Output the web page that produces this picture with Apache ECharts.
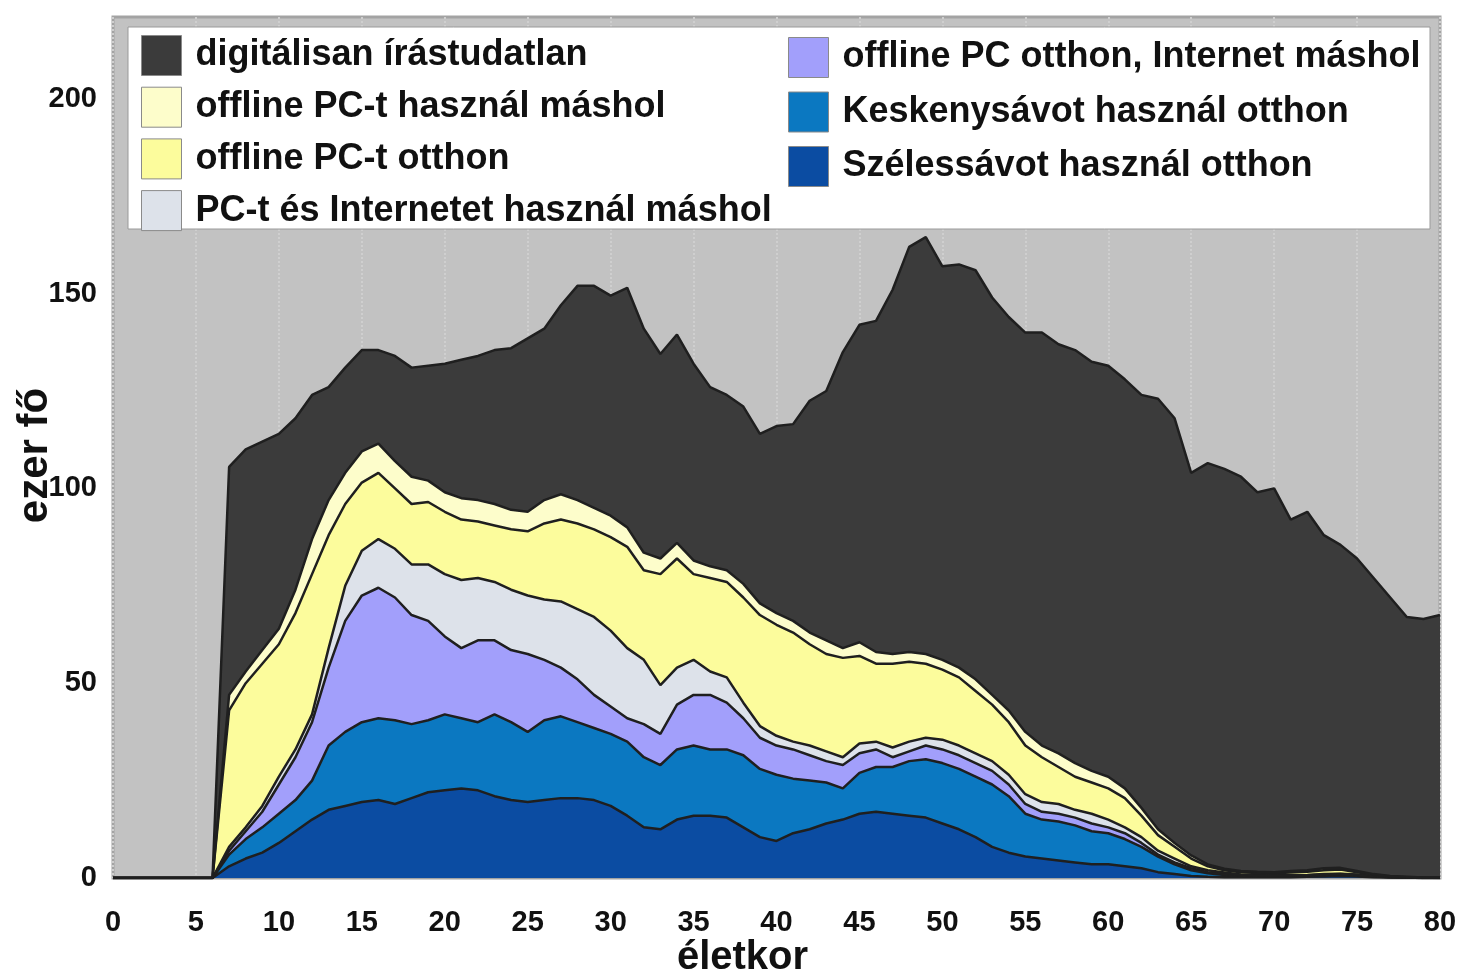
<!DOCTYPE html>
<html>
<head>
<meta charset="utf-8">
<script src="https://cdn.jsdelivr.net/npm/echarts@6/dist/echarts.min.js"></script>
<style>
  html, body { margin: 0; padding: 0; background: #fff; }
  #chart { width: 1462px; height: 971px; }
</style>
</head>
<body>
<div id="chart"></div>
<script>
  // életkor 0..80
  const ages = Array.from({ length: 81 }, (_, i) => String(i))

  // ezer fő, rétegenként (alulról felfelé), 0..80 éves korig
  const szelessav = [0, 0, 0, 0, 0, 0, 0,
    3, 5, 6.5, 9, 12, 15, 17.5, 18.5, 19.5, 20, 19, 20.5, 22, 22.5, 23, 22.5, 21, 20, 19.5, 20, 20.5, 20.5, 20, 18.5,
    16, 13, 12.5, 15, 16, 16, 15.5, 13, 10.5, 9.5, 11.5, 12.5, 14, 15, 16.5, 17, 16.5, 16, 15.5, 14,
    12.5, 10.5, 8, 6.5, 5.5, 5, 4.5, 4, 3.5, 3.5, 3, 2.5, 1.5, 1, 0.5, 0.3, 0.2, 0.2, 0.2, 0.2,
    0.2, 0.3, 0.4, 0.5, 0.4, 0.2, 0.1, 0.1, 0, 0]
  const keskenysav = [0, 0, 0, 0, 0, 0, 0,
    3, 5, 6.5, 7.5, 8, 10, 16.5, 19, 20.5, 21, 21.5, 19, 18.5, 19.5, 18, 17.5, 21, 20, 18, 20.5, 21, 19.5, 18.5, 18.5,
    19, 18, 16.5, 18, 18, 17, 17.5, 18.5, 17.5, 17, 14, 12.5, 10.5, 8, 10.5, 11.5, 12, 14, 15, 15.5,
    15.5, 15.5, 16, 14.5, 11, 10, 10, 9.5, 8.5, 8, 7, 5.5, 4, 2.5, 1.5, 0.9, 0.6, 0.4, 0.3, 0.3,
    0.3, 0.3, 0.4, 0.4, 0.3, 0.2, 0.1, 0, 0, 0]
  const offlineOtthonNetMashol = [0, 0, 0, 0, 0, 0, 0,
    1, 2, 4, 7.5, 11, 15, 20, 28.5, 32.5, 33.5, 31.5, 28, 25.5, 20, 18, 21, 19, 18.5, 20, 15.5, 12.5, 11, 8.5, 7,
    6, 8.5, 8, 11.5, 13, 14, 12, 9.5, 8, 7.5, 7.5, 6.5, 5.5, 6, 5, 4.5, 2.5, 2.5, 3.5, 3.5,
    3.5, 3.5, 3.5, 3, 2.5, 2, 2, 2, 2, 1.5, 1.5, 1, 0.5, 0.5, 0.5, 0.3, 0.2, 0.1, 0.1, 0.1,
    0.1, 0.1, 0.1, 0.1, 0.1, 0.1, 0, 0, 0, 0]
  const pcNetMashol = [0, 0, 0, 0, 0, 0, 0,
    1, 1, 1.5, 2, 2, 2, 5, 9, 11.5, 12.5, 12.5, 13, 14.5, 16, 17.5, 16, 15, 15.5, 15, 15.5, 17, 18, 20, 19.5,
    18, 16.5, 12.5, 9.5, 9, 6, 6.5, 4, 3, 2.5, 2, 2.5, 2.5, 2, 2.5, 2, 2.5, 2.5, 2, 2.5,
    2.5, 2.5, 2.5, 2.5, 2.5, 2.5, 2.5, 2, 2.5, 2, 1.5, 1.5, 1, 1, 0.5, 0.5, 0.4, 0.2, 0.2, 0.1,
    0.1, 0.1, 0.1, 0.1, 0.1, 0, 0.1, 0, 0, 0]
  const offlineOtthon = [0, 0, 0, 0, 0, 0, 0,
    35, 37, 36.5, 34, 35, 36, 29, 21, 17.5, 17, 15.5, 15.5, 16, 16, 15.5, 14.5, 14.5, 15.5, 16.5, 19.5, 21, 22, 22.5, 24,
    26, 23, 28.5, 28, 22, 24, 24.5, 27, 28.5, 28.5, 28, 26, 25, 25.5, 22.5, 20, 21.5, 20.5, 19, 18,
    17.5, 16, 14.5, 13.5, 12.5, 11.5, 9.5, 8.5, 8, 8, 7.5, 5.5, 4, 3, 2, 1, 0.6, 0.6, 0.5, 0.5,
    0.7, 0.8, 1, 1.1, 0.6, 0.3, 0.1, 0.1, 0.1, 0]
  const offlineMashol = [0, 0, 0, 0, 0, 0, 0,
    4, 3, 3.5, 4, 6, 9, 9, 8, 8, 7.5, 7, 7, 5.5, 5, 5.5, 5.5, 5.5, 5, 5, 6, 6.5, 6, 5.5, 5.5,
    5, 4.5, 4, 4, 3.5, 3, 3, 3.5, 3, 3, 3, 3, 3.5, 2.5, 3.5, 3, 2.5, 2.5, 2.5, 2.5,
    2.5, 3, 2.5, 3, 3.5, 3, 3.5, 3.5, 3, 3, 2.5, 2, 1.5, 1, 0.8, 0.5, 0.4, 0.3, 0.3, 0.3,
    0.4, 0.4, 0.5, 0.4, 0.3, 0.2, 0.1, 0.1, 0, 0.1]
  const irastudatlan = [0, 0, 0, 0, 0, 0, 0,
    58.5, 57, 53.5, 50, 44, 37, 29, 27, 26, 24, 27, 28, 29.5, 33, 35.5, 37, 39.5, 41.5, 44.5, 44, 48.5, 55, 57, 56.5,
    61.5, 57.5, 52.5, 53.5, 50.5, 46, 45, 45.5, 43.5, 48, 50.5, 59.5, 64, 76, 81.5, 85, 93.5, 104, 107, 101,
    103.5, 105, 102, 101, 102.5, 106, 105, 106, 105, 105.5, 105, 106, 110.5, 109, 98.2, 103, 102.6, 101.2, 97.4, 98.5,
    90.2, 92, 85.5, 82.9, 80.2, 76, 71.5, 66.7, 66.4, 67.4]

  const yTicks = [0, 50, 100, 150, 200]

  const font = "'Liberation Sans', Arial, sans-serif"
  const lineColor = '#1f1f1f'

  const layers = [
    { name: 'Szélessávot használ otthon', data: szelessav, color: '#0b4ca2' },
    { name: 'Keskenysávot használ otthon', data: keskenysav, color: '#0b78c1' },
    { name: 'offline PC otthon, Internet máshol', data: offlineOtthonNetMashol, color: '#a29ffb' },
    { name: 'PC-t és Internetet használ máshol', data: pcNetMashol, color: '#dde2ea' },
    { name: 'offline PC-t otthon', data: offlineOtthon, color: '#fcfc9c' },
    { name: 'offline PC-t használ máshol', data: offlineMashol, color: '#fdfdcb' },
    { name: 'digitálisan írástudatlan', data: irastudatlan, color: '#3b3b3b' },
  ]

  const chart = echarts.init(document.getElementById('chart'))

  const legendText = {
    color: '#111',
    fontFamily: font,
    fontWeight: 'bold',
    fontSize: 36,
    padding: [0, 0, 0, 9],
  }

  chart.setOption({
    backgroundColor: '#fff',
    animation: false,
    grid: {
      left: 113,
      right: 22,
      top: 17,
      bottom: 93,
      outerBoundsMode: 'none',
      show: true,
      backgroundColor: '#c2c2c2',
      borderColor: '#a3a3a3',
      borderWidth: 3,
    },
    graphic: [
      {
        type: 'rect',
        z: 50,
        shape: { x: 128, y: 27, width: 1302, height: 202 },
        style: { fill: '#fff', stroke: '#9a9a9a', lineWidth: 1 },
      },
    ],
    legend: [
      {
        z: 60,
        left: 141,
        top: 35,
        orient: 'vertical',
        icon: 'rect',
        itemWidth: 40,
        itemHeight: 40,
        itemGap: 10.7,
        padding: 0,
        itemStyle: { borderColor: '#8a8a8a', borderWidth: 1 },
        textStyle: legendText,
        data: [
          'digitálisan írástudatlan',
          'offline PC-t használ máshol',
          'offline PC-t otthon',
          'PC-t és Internetet használ máshol',
        ],
      },
      {
        z: 60,
        left: 788,
        top: 37,
        orient: 'vertical',
        icon: 'rect',
        itemWidth: 40,
        itemHeight: 40,
        itemGap: 13.5,
        padding: 0,
        itemStyle: { borderColor: '#8a8a8a', borderWidth: 1 },
        textStyle: legendText,
        data: [
          'offline PC otthon, Internet máshol',
          'Keskenysávot használ otthon',
          'Szélessávot használ otthon',
        ],
      },
    ],
    xAxis: {
      type: 'category',
      data: ages,
      boundaryGap: false,
      name: 'életkor',
      nameLocation: 'middle',
      nameGap: 60,
      nameMoveOverlap: false,
      nameTextStyle: {
        color: '#111',
        fontFamily: font,
        fontWeight: 'bold',
        fontSize: 40,
        padding: [0, 68, 0, 0],
      },
      axisLine: { show: false },
      axisTick: { show: false },
      axisLabel: {
        interval: 4,
        margin: 30,
        color: '#111',
        fontFamily: font,
        fontWeight: 'bold',
        fontSize: 29,
      },
      splitLine: {
        show: true,
        interval: 4,
        lineStyle: { color: '#cfcfcf', type: 'dotted', width: 2 },
      },
    },
    yAxis: {
      type: 'value',
      min: yTicks[0],
      max: 221,
      interval: yTicks[1] - yTicks[0],
      name: 'ezer fő',
      nameLocation: 'middle',
      nameRotate: 90,
      nameGap: 57,
      nameMoveOverlap: false,
      nameTextStyle: {
        color: '#111',
        fontFamily: font,
        fontWeight: 'bold',
        fontSize: 42,
        padding: [0, 16, 0, 0],
      },
      axisLine: { show: false },
      axisTick: { show: false },
      splitLine: { show: false },
      axisLabel: {
        margin: 16,
        showMaxLabel: false,
        color: '#111',
        fontFamily: font,
        fontWeight: 'bold',
        fontSize: 29,
        formatter: (v) => (yTicks.includes(v) ? String(v) : ''),
      },
    },
    series: layers.map((l) => ({
      name: l.name,
      type: 'line',
      stack: 'total',
      data: l.data,
      symbol: 'none',
      smooth: false,
      color: l.color,
      itemStyle: { color: l.color },
      lineStyle: { color: lineColor, width: 2.5 },
      areaStyle: { color: l.color, opacity: 1 },
    })),
  })
</script>
</body>
</html>
